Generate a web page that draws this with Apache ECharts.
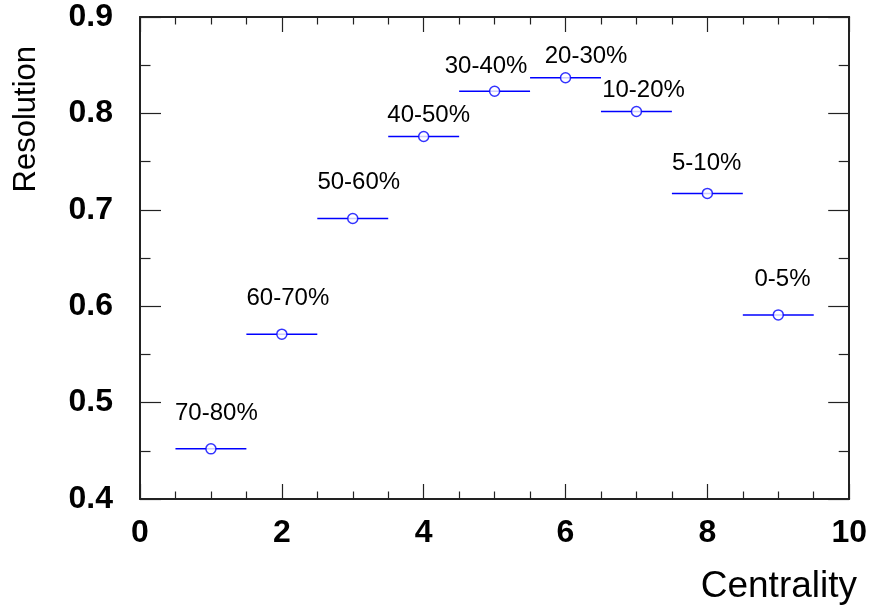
<!DOCTYPE html>
<html>
<head>
<meta charset="utf-8">
<script src="https://cdn.jsdelivr.net/npm/echarts@6/dist/echarts.min.js"></script>
<style>
  html, body { margin: 0; padding: 0; background: #fff; }
  #chart { width: 870px; height: 606px; }
</style>
</head>
<body>
<div id="chart"></div>
<script>
// Event-plane resolution per centrality bin
const centralityBin = [1, 2, 3, 4, 5, 6, 7, 8, 9];
const resolution = [0.452, 0.571, 0.691, 0.776, 0.823, 0.837, 0.802, 0.717, 0.591];
const binHalfWidth = [0.5, 0.5, 0.5, 0.5, 0.5, 0.5, 0.5, 0.5, 0.5];

// Bin annotations, placed in data coordinates
const binNames = ['70-80%', '60-70%', '50-60%', '40-50%', '30-40%', '20-30%', '10-20%', '5-10%', '0-5%'];
const tagX = [1.077, 2.085, 3.085, 4.07, 4.88, 6.29, 7.10, 7.99, 9.06];
const tagY = [0.4887, 0.6085, 0.7288, 0.7983, 0.8485, 0.859, 0.8243, 0.7485, 0.628];

// Axis ranges and tick spacing
const xRange = [0, 10];
const xStep = 2;
const yRange = [0.4, 0.9];
const yStep = 0.1;

const FONT = '"Liberation Sans", Arial, Helvetica, sans-serif';
const FRAME = '#222';
const BLUE = '#0000ff';

const chart = echarts.init(document.getElementById('chart'), null, { renderer: 'canvas' });

function axisCommon(minorSplit, majorLen, minorLen) {
  return {
    axisLine: { show: true, onZero: false, lineStyle: { color: FRAME, width: 2 } },
    axisTick: { show: true, inside: true, length: majorLen, lineStyle: { color: FRAME, width: 1.2 } },
    minorTick: { show: true, splitNumber: minorSplit, length: minorLen, lineStyle: { color: FRAME, width: 1.2 } },
    splitLine: { show: false },
    minorSplitLine: { show: false }
  };
}

const option = {
  animation: false,
  backgroundColor: '#fff',
  grid: { left: 140, right: 20, top: 17, bottom: 107, containLabel: false },
  xAxis: [
    Object.assign({
      type: 'value', min: xRange[0], max: xRange[1], interval: xStep, position: 'bottom',
      axisLabel: { show: true, margin: 18, fontFamily: FONT, fontWeight: 'bold', fontSize: 32, color: '#000' }
    }, axisCommon(4, 15, 7.5)),
    Object.assign({
      type: 'value', min: xRange[0], max: xRange[1], interval: xStep, position: 'top',
      axisLabel: { show: false }
    }, axisCommon(4, 15, 7.5))
  ],
  yAxis: [
    Object.assign({
      type: 'value', min: yRange[0], max: yRange[1], interval: yStep, position: 'left',
      axisLabel: {
        show: true, margin: 27, fontFamily: FONT, fontWeight: 'bold', fontSize: 32, color: '#000',
        padding: [4, 0, 0, 0],
        formatter: v => v.toFixed(1)
      }
    }, axisCommon(2, 21, 10.5)),
    Object.assign({
      type: 'value', min: yRange[0], max: yRange[1], interval: yStep, position: 'right',
      axisLabel: { show: false }
    }, axisCommon(2, 21, 10.5))
  ],
  graphic: [
    {
      type: 'text', x: 857, y: 605,
      style: { text: 'Centrality', font: '37px ' + FONT, fill: '#000', textAlign: 'right', textVerticalAlign: 'bottom' }
    },
    {
      type: 'text', x: 26, y: 46, rotation: Math.PI / 2,
      style: { text: 'Resolution', font: '31px ' + FONT, fill: '#000', textAlign: 'right', textVerticalAlign: 'middle' }
    }
  ],
  series: [
    {
      // horizontal bin-width bars
      type: 'custom',
      xAxisIndex: 0, yAxisIndex: 0,
      z: 2,
      data: centralityBin.map((x, i) => [x, resolution[i], binHalfWidth[i]]),
      renderItem: function (params, api) {
        const x = api.value(0), y = api.value(1), e = api.value(2);
        const p0 = api.coord([x - e, y]);
        const p1 = api.coord([x + e, y]);
        return {
          type: 'line',
          shape: { x1: p0[0], y1: p0[1], x2: p1[0], y2: p1[1] },
          style: { stroke: BLUE, lineWidth: 1.5 }
        };
      }
    },
    {
      // open circle markers
      type: 'scatter',
      xAxisIndex: 0, yAxisIndex: 0,
      z: 3,
      symbol: 'circle',
      symbolSize: 10,
      itemStyle: { color: '#fff', borderColor: BLUE, borderWidth: 1.5 },
      data: centralityBin.map((x, i) => [x, resolution[i]])
    },
    {
      // centrality class annotations
      type: 'custom',
      xAxisIndex: 0, yAxisIndex: 0,
      z: 4,
      silent: true,
      data: tagX.map((x, i) => [x, tagY[i]]),
      renderItem: function (params, api) {
        const p = api.coord([api.value(0), api.value(1)]);
        return {
          type: 'text',
          x: p[0], y: p[1],
          style: {
            text: binNames[params.dataIndex],
            font: '24px ' + FONT, fill: '#000',
            textAlign: 'center', textVerticalAlign: 'middle'
          }
        };
      }
    }
  ]
};

chart.setOption(option);
</script>
</body>
</html>
